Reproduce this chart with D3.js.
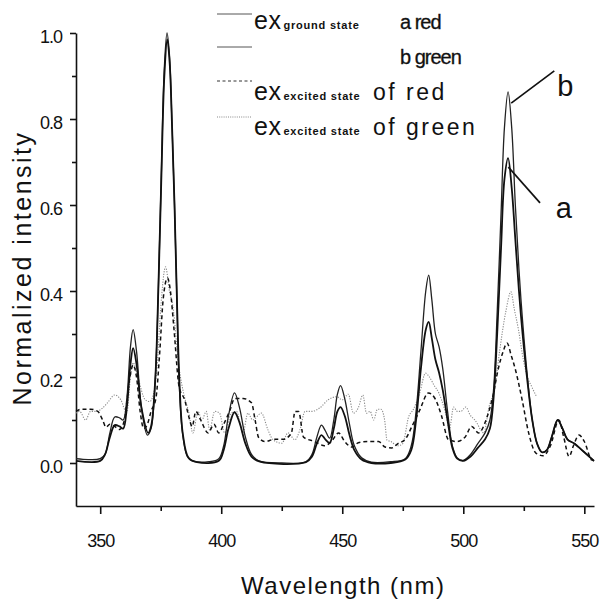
<!DOCTYPE html>
<html>
<head>
<meta charset="utf-8">
<script src="https://cdn.jsdelivr.net/npm/d3@7"></script>
<style>
  body { margin: 0; background: #fff; }
  svg { display: block; font-family: "Liberation Sans", Arial, sans-serif; }
</style>
</head>
<body>
<svg id="chart" width="600" height="601"></svg>
<script>
// [wavelength nm, normalized intensity]
const groundGreen = [
  [340, 0.01], [345, 0.008], [350, 0.01], [352, 0.02], [354, 0.07], [356, 0.107], [358, 0.105],
  [359.5, 0.1], [361, 0.15], [362.5, 0.27], [363.6, 0.31], [365, 0.26], [367, 0.13], [369.5, 0.065],
  [371, 0.08], [372.7, 0.19], [374, 0.4], [375.2, 0.66], [376.5, 0.92], [377.6, 1.0], [378.6, 0.95],
  [379.6, 0.8], [380.6, 0.62], [381.6, 0.4], [382.6, 0.19], [384, 0.07], [386, 0.015], [388, 0.005],
  [395, 0.003], [399, 0.01], [401, 0.04], [403, 0.11], [405.5, 0.163], [407.5, 0.13], [410, 0.06],
  [412.5, 0.02], [415.5, 0.005], [425, 0.0], [435, 0.003], [437.5, 0.02], [439.5, 0.06], [441.4, 0.088],
  [443, 0.075], [444.8, 0.058], [446.5, 0.1], [448, 0.16], [449.3, 0.18], [451, 0.15], [453, 0.09],
  [455, 0.04], [458, 0.012], [462, 0.002], [470, 0.003], [476, 0.01], [478.5, 0.04], [480.5, 0.12],
  [482.5, 0.26], [484.5, 0.4], [485.7, 0.437], [487, 0.38], [488.5, 0.3], [490, 0.27], [491.5, 0.22],
  [493.5, 0.12], [495.5, 0.04], [497.5, 0.012], [500, 0.006], [503, 0.02], [506, 0.045], [509, 0.07],
  [511, 0.1], [512.5, 0.17], [514, 0.35], [515.6, 0.58], [517, 0.78], [518.5, 0.863], [520, 0.78],
  [521.5, 0.6], [523, 0.45], [524.5, 0.33], [526.5, 0.2], [528.5, 0.1], [530.5, 0.045], [532.5, 0.025],
  [534.5, 0.03], [536.5, 0.06], [539, 0.1], [541, 0.08], [543, 0.055], [546, 0.045], [549, 0.03],
  [552, 0.015], [554, 0.005]
];

const groundRed = [
  [340, 0.005], [350, 0.005], [352, 0.02], [354, 0.06], [356, 0.088], [358, 0.085], [359.5, 0.08],
  [361, 0.13], [362.5, 0.23], [363.6, 0.267], [365, 0.23], [367, 0.13], [369.8, 0.07], [371, 0.085],
  [372.7, 0.19], [374, 0.4], [375.2, 0.65], [376.5, 0.9], [377.7, 0.985], [378.7, 0.93], [379.7, 0.78],
  [380.7, 0.6], [381.7, 0.38], [382.8, 0.18], [384.2, 0.065], [386.5, 0.012], [390, 0.002], [399, 0.005],
  [401, 0.03], [403, 0.08], [405.5, 0.118], [407.5, 0.095], [410, 0.045], [412.5, 0.015], [416, 0.003],
  [435, 0.002], [437.5, 0.015], [439.5, 0.045], [441.4, 0.065], [443, 0.055], [444.8, 0.047],
  [446.5, 0.08], [448, 0.12], [449.3, 0.13], [451, 0.11], [453, 0.065], [455, 0.03], [458, 0.008],
  [462, 0.0], [470, 0.0], [476, 0.008], [478.5, 0.03], [480.5, 0.1], [482.5, 0.22], [484.5, 0.31],
  [485.7, 0.328], [487, 0.29], [488.5, 0.24], [490, 0.21], [491.5, 0.17], [493.5, 0.1], [495.5, 0.035],
  [497.5, 0.01], [500, 0.005], [503, 0.015], [506, 0.035], [509, 0.055], [511, 0.08], [512.5, 0.15],
  [514, 0.3], [515.6, 0.5], [517, 0.66], [518.5, 0.709], [520, 0.64], [521.5, 0.52], [523, 0.4],
  [524.5, 0.3], [526.5, 0.19], [528.5, 0.1], [530.5, 0.045], [532.5, 0.025], [534.5, 0.03],
  [536.5, 0.06], [539, 0.1], [541, 0.08], [543, 0.055], [546, 0.045], [549, 0.03], [552, 0.015],
  [554, 0.005]
];

const excitedRed = [
  [340, 0.12], [342, 0.125], [346, 0.125], [349, 0.12], [351, 0.1], [352.4, 0.083], [354, 0.09],
  [356, 0.085], [358, 0.078], [360, 0.1], [362, 0.19], [363.6, 0.228], [365, 0.2], [366.5, 0.12],
  [368, 0.08], [369.5, 0.09], [371, 0.12], [373, 0.15], [374.5, 0.25], [376, 0.38], [377.8, 0.43],
  [379, 0.4], [380.5, 0.31], [382.6, 0.177], [385, 0.145], [386.5, 0.11], [388, 0.085], [389.5, 0.12],
  [391.5, 0.1], [394.6, 0.07], [397, 0.09], [399, 0.07], [401, 0.09], [403.4, 0.12], [405.6, 0.15],
  [409, 0.15], [412.5, 0.14], [414, 0.1], [415.4, 0.06], [418, 0.05], [422, 0.055], [425.6, 0.055],
  [429, 0.07], [430.5, 0.12], [432, 0.12], [434, 0.06], [438.6, 0.05], [442.7, 0.04], [445.5, 0.05],
  [448.5, 0.07], [451, 0.05], [454, 0.037], [456.6, 0.047], [460.8, 0.05], [465, 0.05], [467.7, 0.037],
  [470.4, 0.035], [473, 0.045], [476, 0.055], [478.7, 0.084], [482, 0.123], [485.6, 0.163],
  [488.3, 0.15], [491, 0.11], [493.8, 0.055], [497.3, 0.05], [500.7, 0.06], [503.5, 0.085],
  [506.3, 0.07], [509.7, 0.105], [512, 0.15], [514.5, 0.22], [516.5, 0.26], [518.1, 0.279],
  [519.8, 0.25], [521.4, 0.22], [524.3, 0.147], [527, 0.07], [530, 0.023], [533, 0.017], [536, 0.04],
  [539.5, 0.1], [541.5, 0.06], [543.7, 0.015], [545.5, 0.04], [547.8, 0.065], [550, 0.05],
  [553, 0.007], [554, 0.005]
];

const excitedGreen = [
  [340, 0.116], [341.5, 0.12], [344, 0.1], [346, 0.12], [348.5, 0.12], [351, 0.128], [353, 0.14],
  [356, 0.158], [358.5, 0.147], [361, 0.116], [362.5, 0.2], [363.6, 0.233], [365.5, 0.2],
  [368.6, 0.147], [370.5, 0.143], [372, 0.16], [373.5, 0.225], [375, 0.36], [377, 0.456], [378.6, 0.4],
  [380, 0.365], [382.5, 0.225], [384.8, 0.154], [386.5, 0.12], [388.3, 0.07], [390.4, 0.12], [392, 0.1],
  [393.8, 0.12], [395.2, 0.077], [397.3, 0.12], [399.3, 0.116], [401.4, 0.07], [404.2, 0.116],
  [406.3, 0.12], [409, 0.07], [411, 0.116], [413, 0.1], [416.6, 0.116], [419.3, 0.077], [421.4, 0.054],
  [425, 0.046], [427.6, 0.07], [430.4, 0.054], [432.5, 0.077], [434.6, 0.12], [437.3, 0.12],
  [440.7, 0.128], [444.2, 0.147], [447.7, 0.154], [450, 0.147], [452.5, 0.16], [454.6, 0.116],
  [456.6, 0.128], [458.5, 0.158], [460, 0.116], [461.5, 0.12], [463, 0.1], [464.5, 0.125], [466, 0.125],
  [467.5, 0.1], [468.5, 0.053], [470, 0.05], [473, 0.04], [475, 0.045], [477.4, 0.107], [479.4, 0.125],
  [482, 0.163], [484.4, 0.209], [486, 0.2], [488, 0.18], [489.9, 0.163], [491, 0.147], [492.5, 0.12],
  [494.3, 0.08], [496, 0.13], [497.5, 0.12], [499, 0.12], [501, 0.13], [503, 0.11], [504.8, 0.1],
  [508.5, 0.07], [510.6, 0.13], [513, 0.175], [515, 0.26], [517.5, 0.35], [519.7, 0.398], [521, 0.36],
  [522.8, 0.31], [524.8, 0.24], [526.5, 0.2], [528.3, 0.177], [530.3, 0.154]
];

const xTicks = [350, 400, 450, 500, 550];
const xMinor = [375, 425, 475, 525];
const yTicks = [0, 0.2, 0.4, 0.6, 0.8, 1.0];
const yMinor = [0.1, 0.3, 0.5, 0.7, 0.9];

const svg = d3.select("#chart");

const x = d3.scaleLinear().domain([340, 554]).range([76, 594]);
const y = d3.scaleLinear().domain([-0.1, 1.0]).range([506, 33]);

// axes
const xAxis = svg.append("g").attr("transform", `translate(0,${y(-0.1)})`);
xAxis.call(d3.axisBottom(x).tickValues(xTicks).tickSize(8).tickSizeOuter(0).tickPadding(20).tickFormat(d3.format("d")));
xAxis.append("g").call(d3.axisBottom(x).tickValues(xMinor).tickSize(5).tickFormat("")).select(".domain").remove();

const yAxis = svg.append("g").attr("transform", `translate(${x(340)},0)`);
yAxis.call(d3.axisLeft(y).tickValues(yTicks).tickSize(6).tickSizeOuter(0).tickPadding(8).tickFormat(d3.format(".1f")));
yAxis.append("g").call(d3.axisLeft(y).tickValues(yMinor).tickSize(4).tickFormat("")).select(".domain").remove();
yAxis.selectAll(".tick text").attr("dy", "0.55em");

svg.selectAll(".domain, .tick line").attr("stroke", "#111").attr("stroke-width", 1.6);
svg.selectAll(".tick text").attr("font-size", 18).attr("fill", "#111")
  .attr("letter-spacing", -1).attr("font-family", "Liberation Sans, Arial, sans-serif");

// axis titles
svg.append("text")
  .attr("transform", "translate(31,268) rotate(-90)")
  .attr("text-anchor", "middle").attr("font-size", 25).attr("letter-spacing", 2.5)
  .attr("fill", "#111").text("Normalized intensity");

svg.append("text")
  .attr("x", x(450) + 1).attr("y", 594)
  .attr("text-anchor", "middle").attr("font-size", 24).attr("letter-spacing", 1.5)
  .attr("fill", "#111").text("Wavelength (nm)");

// curves
const line = d3.line().x(d => x(d[0])).y(d => y(d[1])).curve(d3.curveCatmullRom.alpha(0.5));
const noisy = d3.line().x(d => x(d[0])).y(d => y(d[1])).curve(d3.curveMonotoneX);

svg.append("path").datum(excitedGreen).attr("d", noisy)
  .attr("fill", "none").attr("stroke", "#8a8a8a").attr("stroke-width", 1.1).attr("stroke-dasharray", "1.2,1.4");
svg.append("path").datum(excitedRed).attr("d", noisy)
  .attr("fill", "none").attr("stroke", "#111").attr("stroke-width", 1.5).attr("stroke-dasharray", "4,3");
svg.append("path").datum(groundGreen).attr("d", line)
  .attr("fill", "none").attr("stroke", "#222").attr("stroke-width", 1.3);
svg.append("path").datum(groundRed).attr("d", line)
  .attr("fill", "none").attr("stroke", "#111").attr("stroke-width", 1.8);

// peak labels a / b
svg.append("line").attr("x1", x(519.8)).attr("y1", y(0.837)).attr("x2", x(537.6)).attr("y2", y(0.912))
  .attr("stroke", "#111").attr("stroke-width", 1.7);
svg.append("text").attr("x", x(538.8)).attr("y", y(0.853)).attr("font-size", 29).attr("fill", "#111").text("b");
svg.append("line").attr("x1", x(518.6)).attr("y1", y(0.688)).attr("x2", x(531.7)).attr("y2", y(0.605))
  .attr("stroke", "#111").attr("stroke-width", 1.7);
svg.append("text").attr("x", x(538.2)).attr("y", y(0.57)).attr("font-size", 29).attr("fill", "#111").text("a");

// legend
const legendRows = [
  { dy: 14, dash: null, color: "#555" },
  { dy: 47, dash: null, color: "#555" },
  { dy: 81, dash: "3,2.5", color: "#333" },
  { dy: 117, dash: "1,1.2", color: "#888" }
];
const legend = svg.append("g");
legendRows.forEach(r => {
  legend.append("line").attr("x1", 217).attr("x2", 252).attr("y1", r.dy).attr("y2", r.dy)
    .attr("stroke", r.color).attr("stroke-width", 1).attr("stroke-dasharray", r.dash);
});

function exLabel(yy, sub) {
  const t = legend.append("text").attr("x", 254).attr("y", yy).attr("fill", "#111");
  t.append("tspan").attr("font-size", 25).attr("letter-spacing", 0.5).text("ex");
  t.append("tspan").attr("font-size", 11).attr("font-weight", "bold").attr("letter-spacing", 0.8)
    .attr("dx", 2).text(sub);
  return t;
}
exLabel(29, "ground state");
exLabel(100, "excited state");
exLabel(135, "excited state");
legend.append("text").attr("x", 400).attr("y", 29).attr("font-size", 20).attr("letter-spacing", -1)
  .attr("fill", "#111").attr("stroke", "#111").attr("stroke-width", 0.3).text("a red");
legend.append("text").attr("x", 400).attr("y", 64).attr("font-size", 20).attr("letter-spacing", -1)
  .attr("fill", "#111").attr("stroke", "#111").attr("stroke-width", 0.3).text("b green");
legend.append("text").attr("x", 373).attr("y", 100).attr("font-size", 23).attr("letter-spacing", 2.5)
  .attr("fill", "#111").text("of red");
legend.append("text").attr("x", 373).attr("y", 135).attr("font-size", 23).attr("letter-spacing", 2.5)
  .attr("fill", "#111").text("of green");
</script>
</body>
</html>
